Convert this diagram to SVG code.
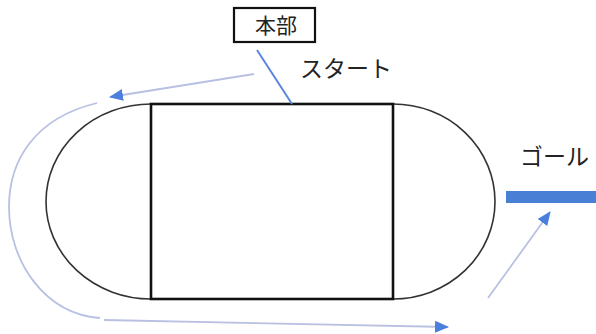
<svg xmlns="http://www.w3.org/2000/svg" width="596" height="334" viewBox="0 0 596 334">
<style>
.lbl{font-family:"Noto Sans CJK JP","Noto Sans",sans-serif;fill:#222;}
.flow{fill:none;stroke:#b9c0e2;stroke-width:1.8;}
.arc{fill:none;stroke:#333;stroke-width:1.6;}
</style>
<defs>
<marker id="ah" markerUnits="userSpaceOnUse" markerWidth="14" markerHeight="12" refX="13" refY="6" orient="auto">
<path d="M0,0 L14,6 L0,12 Z" fill="#4a80dc"/>
</marker>
</defs>
<rect width="596" height="334" fill="#fff"/>
<g id="track">
<path class="arc" d="M151,104 A105 97.5 0 0 0 151,299"/>
<path class="arc" d="M393,104 A102 97.5 0 0 1 393,299"/>
<rect x="151" y="104" width="242" height="195" fill="none" stroke="#111" stroke-width="2.6"/>
</g>
<g id="honbu">
<rect x="234" y="8" width="81" height="34" fill="#fff" stroke="#111" stroke-width="2.2"/>
<text class="lbl" x="276" y="33" font-size="21" text-anchor="middle">本部</text>
</g>
<g id="start">
<text class="lbl" x="300" y="77" font-size="23">スタート</text>
</g>
<g id="goal">
<text class="lbl" x="520" y="165" font-size="23">ゴール</text>
<rect x="506" y="191" width="90" height="12" fill="#4a7fd6"/>
</g>
<g id="connectors">
<line x1="257" y1="50" x2="292" y2="104" stroke="#5b86e0" stroke-width="2"/>
<line class="flow" x1="254" y1="74" x2="110" y2="97" marker-end="url(#ah)"/>
<path class="flow" stroke="#cdd1ea" d="M97,103 C35,118 9,160 9,207 C9,262 45,314 100,318"/>
<line class="flow" x1="104" y1="320" x2="448" y2="327" marker-end="url(#ah)"/>
<line class="flow" x1="488" y1="298" x2="550" y2="212" marker-end="url(#ah)"/>
</g>
</svg>
